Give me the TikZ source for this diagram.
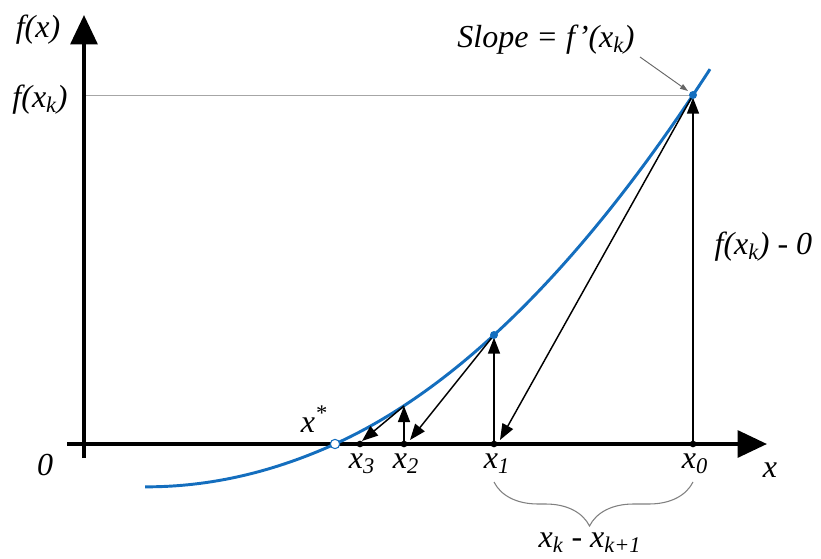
\documentclass[tikz,border=0pt]{standalone}
\usepackage{fontspec}
\setmainfont{Liberation Serif}
\usetikzlibrary{arrows.meta,decorations.pathreplacing}
\definecolor{curveblue}{RGB}{20,110,190}
\begin{document}
\begin{tikzpicture}[x=0.75pt,y=0.75pt,
  axis/.style={line width=3pt,-{Triangle[length=22pt,width=20pt]}},
  newton/.style={line width=1.1pt,-{Triangle[length=12pt,width=9pt]}},
  lbl/.style={font=\fontsize{24}{28}\selectfont\itshape,inner sep=1pt},
  axdot/.style={circle,fill=black,inner sep=0pt,minimum size=5pt},
  cdot/.style={circle,fill=curveblue,inner sep=0pt,minimum size=6pt}]
\useasboundingbox (0,0) rectangle (821,558);
% points
\coordinate (O) at (84,114);
\coordinate (xend) at (767,114);
\coordinate (xstart) at (67,114);
\coordinate (ybot) at (84,100);
\coordinate (yend) at (84,543);
\coordinate (p0) at (693,463);
\coordinate (p1) at (494,223);
\coordinate (p2) at (404,152);
\coordinate (a0) at (693,114);
\coordinate (a1) at (494,114);
\coordinate (a2) at (404,114);
\coordinate (a3) at (360,114);
\coordinate (root) at (335,114);
\coordinate (t1) at (500,118);
\coordinate (t2) at (410,118);
\coordinate (t3) at (362,117);
\coordinate (ykl) at (84,463);
% gray level line
\draw[gray!70,line width=0.6pt] (ykl) -- (p0);
% axes
\draw[axis] (xstart) -- (xend);
\draw[axis] (ybot) -- (yend);
% curve
\draw[curveblue,line width=2.2pt] plot[domain=145:710,samples=120,smooth]
  (\x,{114+((\x-335)*0.03813)^2+0.4543*(\x-335)-((335-\x)*0.0158)^2*((335-\x)>0)});
% newton arrows
\draw[newton] (a0) -- ([yshift=-2pt]p0);
\draw[newton] (p0) -- (t1);
\draw[newton] (a1) -- ([yshift=-2pt]p1);
\draw[newton] (p1) -- (t2);
\draw[newton] (a2) -- (p2);
\draw[newton] (p2) -- (t3);
% dots
\node[axdot] (d0) at (a0) {};
\node[axdot] (d1) at (a1) {};
\node[axdot] (d2) at (a2) {};
\node[axdot] (d3) at (a3) {};
\node[cdot] (c0) at (p0) {};
\node[cdot] (c1) at (p1) {};
\node[circle,draw=curveblue,fill=white,line width=0.8pt,inner sep=0pt,minimum size=7pt] (cr) at (root) {};
% labels
\node[lbl] (lfx) at (38,528) {f(x)};
\node[lbl] (lfxk) at (40,458) {f(x\textsubscript{k})};
\node[lbl] (lzero) at (45,93) {0};
\node[lbl] (lx) at (770,88) {x};
\node[lbl] (lx3) at (362,94) {x\textsubscript{3}};
\node[lbl] (lx2) at (406,94) {x\textsubscript{2}};
\node[lbl] (lx1) at (497,94) {x\textsubscript{1}};
\node[lbl] (lx0) at (695,94) {x\textsubscript{0}};
\node[lbl] (lxs) at (314,139) {x\textsuperscript{*}};
\node[lbl] (lslope) at (546,518) {Slope = f’(x\textsubscript{k})};
\node[lbl,anchor=west] (ldiff) at (713,311) {f(x\textsubscript{k}) - 0};
\coordinate (sa) at (640,501);
\draw[gray!80!black,line width=0.7pt,-{Triangle[length=6pt,width=4pt]}] (sa) -- (688,467);
% brace
\coordinate (b1) at (494,76);
\coordinate (b2) at (693,76);
\draw[gray,line width=0.8pt,decorate,decoration={brace,mirror,amplitude=33pt,aspect=0.48}] (b1) -- (b2);
\node[lbl] (lbr) at (590,15) {x\textsubscript{k} - x\textsubscript{k+1}};
\end{tikzpicture}
\end{document}
